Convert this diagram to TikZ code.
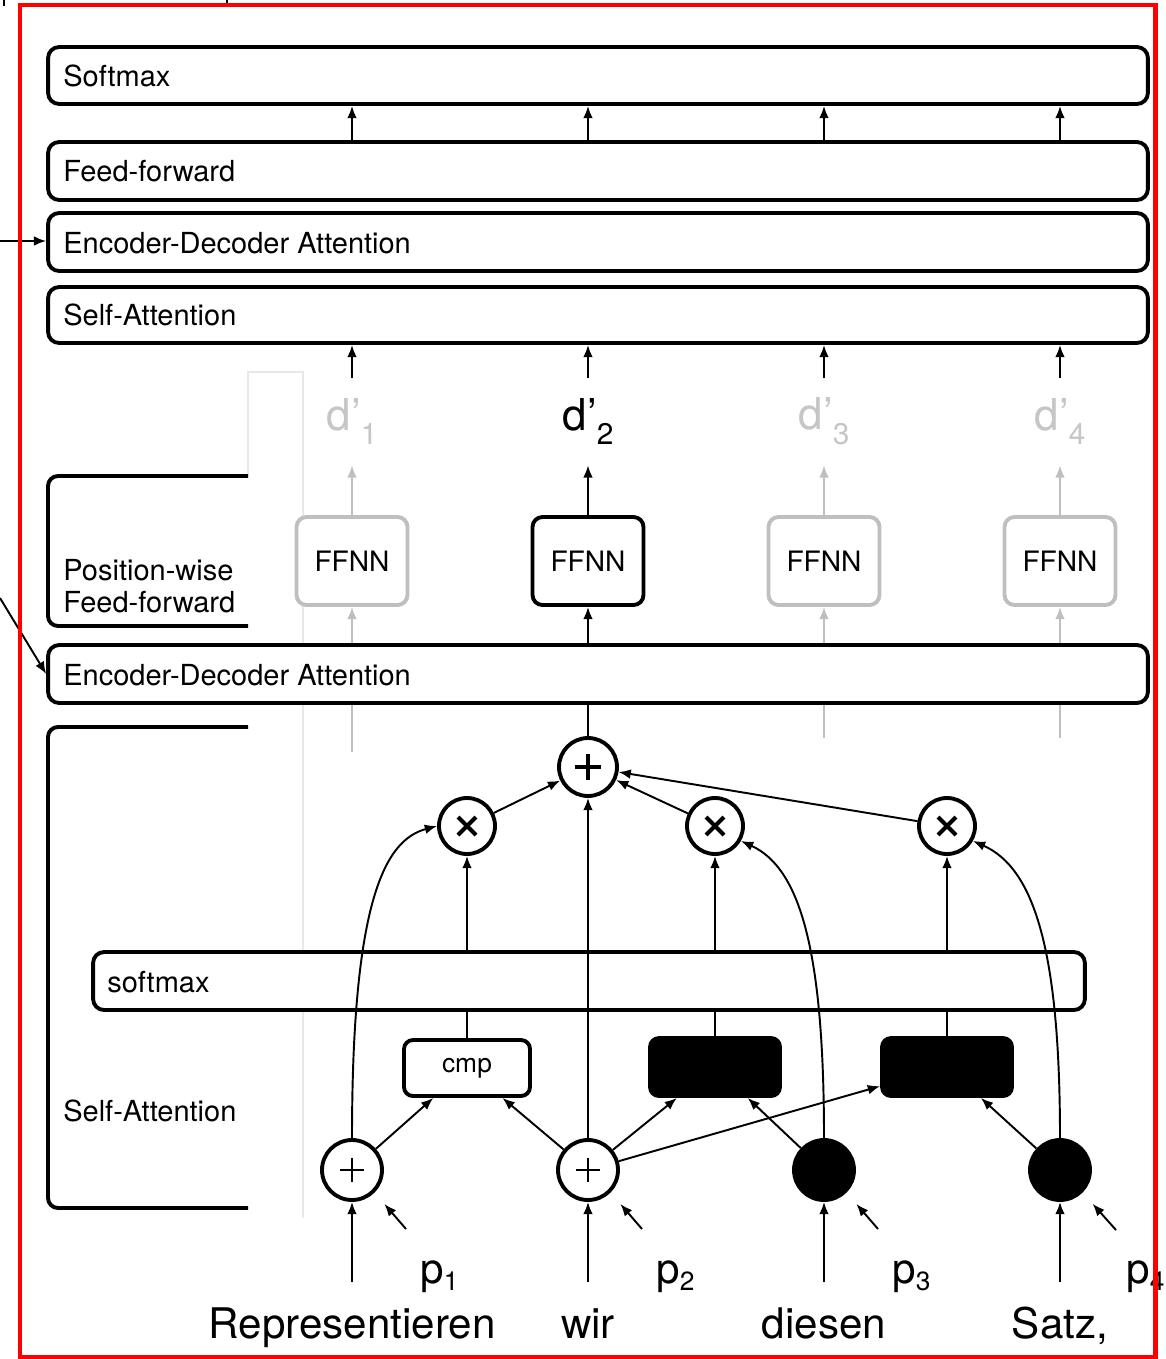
\documentclass[tikz,border=0pt]{standalone}
\usepackage{fontspec}
\setmainfont{TeX Gyre Heros}
\usetikzlibrary{arrows.meta,calc}
% subscripts for the d' and p labels
\newcommand\dsub[1]{\raisebox{-8.5pt}{\fontsize{17}{17}\selectfont #1}}
\newcommand\psub[1]{\raisebox{-4pt}{\fontsize{15}{15}\selectfont #1}}
\begin{document}
\begin{tikzpicture}[x=0.02cm,y=-0.02cm,
  thickline/.style={line width=2.2pt},
  layerbox/.style={draw, fill=white, line width=2.2pt, rounded corners=0.22cm,
    minimum width=22cm, minimum height=1.16cm, inner sep=0},
  lbltext/.style={anchor=west, inner sep=0, font=\fontsize{16.5}{18.5}\selectfont},
  arrowline/.style={-{Latex[length=7pt,width=5.5pt]}, line width=1.1pt},
  grayarrow/.style={arrowline, draw=gray!50},
  plainline/.style={line width=1.1pt},
  grayline/.style={line width=1.1pt, draw=gray!50},
  ffbox/.style={draw, fill=white, line width=2.2pt, rounded corners=0.2cm,
    minimum width=2.22cm, minimum height=1.76cm, inner sep=0,
    font=\fontsize{16}{18}\selectfont},
  dlabel/.style={inner sep=0, minimum height=1.74cm, font=\fontsize{25}{28}\selectfont},
  circnode/.style={circle, draw, fill=white, line width=2.2pt, inner sep=0},
  bigplus/.style={path picture={
    \draw[line width=2.3pt] ([xshift=-0.26cm]path picture bounding box.center) -- ([xshift=0.26cm]path picture bounding box.center)
      ([yshift=-0.26cm]path picture bounding box.center) -- ([yshift=0.26cm]path picture bounding box.center);}},
  smallplus/.style={path picture={
    \draw[line width=1.2pt] ([xshift=-0.24cm]path picture bounding box.center) -- ([xshift=0.24cm]path picture bounding box.center)
      ([yshift=-0.24cm]path picture bounding box.center) -- ([yshift=0.24cm]path picture bounding box.center);}},
  timessign/.style={path picture={
    \draw[line width=2.3pt] ([shift={(-0.18cm,-0.18cm)}]path picture bounding box.center) -- ([shift={(0.18cm,0.18cm)}]path picture bounding box.center)
      ([shift={(-0.18cm,0.18cm)}]path picture bounding box.center) -- ([shift={(0.18cm,-0.18cm)}]path picture bounding box.center);}},
  smallbox/.style={draw, line width=2.2pt, rounded corners=0.18cm,
    minimum width=2.52cm, minimum height=1.12cm, inner sep=0, font=\fontsize{15}{17}\selectfont},
  wordlabel/.style={anchor=base, inner sep=0, font=\fontsize{24}{28}\selectfont},
  plabel/.style={anchor=base west, inner sep=0, font=\fontsize{24}{28}\selectfont},
]
\useasboundingbox (0,0) rectangle (1166,1359);
\fill[white] (0,0) rectangle (1166,1359);

% column positions
\coordinate (c1) at (352,0);
\coordinate (c2) at (588,0);
\coordinate (c3) at (824,0);
\coordinate (c4) at (1060,0);

% light panel behind the left labels
\draw[gray!18, line width=0.6pt] (248,476) -- (248,372) -- (303,372) -- (303,1218);

% group brackets on the left
\draw[thickline, rounded corners=0.2cm] (248,476) -- (48,476) -- (48,626) -- (248,626);
\draw[thickline, rounded corners=0.2cm] (248,727) -- (48,727) -- (48,1208) -- (248,1208);
\node[lbltext, align=left] (t-pw) at (63,586) {Position-wise\\Feed-forward};
\node[lbltext] (t-sa2) at (63,1111) {Self-Attention};

% decoder layers
\node[layerbox, minimum height=1.14cm] (soft) at (598,75.5) {};
\node[layerbox] (ff) at (598,171) {};
\node[layerbox] (eda1) at (598,242) {};
\node[layerbox, minimum height=1.12cm] (sa) at (598,315) {};
\node[layerbox] (eda2) at (598,674) {};
\node[layerbox, minimum width=19.84cm] (smx) at (589,981) {};

\node[lbltext] (t-soft) at (63,75.5) {Softmax};
\node[lbltext] (t-ff) at (63,171) {Feed-forward};
\node[lbltext] (t-eda1) at (63,243) {Encoder-Decoder Attention};
\node[lbltext] (t-sa) at (63,315) {Self-Attention};
\node[lbltext] (t-eda2) at (63,675) {Encoder-Decoder Attention};
\node[lbltext] (t-smx) at (107,982) {softmax};

% inputs from the encoder
\coordinate (enc1) at (0,241);
\coordinate (enc2) at (0,598);
\draw[arrowline] (enc1) -- (eda1.west |- enc1);
\draw[arrowline] (enc2) -- (eda2.west);

% arrows between the upper layers
\foreach \i in {1,...,4}
  \draw[arrowline] (ff.north -| c\i) -- (soft.south -| c\i);

% position-wise feed-forward networks and outputs
\node[ffbox, draw=gray!50] (f1) at (352,561) {FFNN};
\node[ffbox] (f2) at (588,561) {FFNN};
\node[ffbox, draw=gray!50] (f3) at (824,561) {FFNN};
\node[ffbox, draw=gray!50] (f4) at (1060,561) {FFNN};

\node[dlabel, text=gray!45] (d1) at (352,421.5) {d’\dsub{1}};
\node[dlabel] (d2) at (588,421.5) {d’\dsub{2}};
\node[dlabel, text=gray!45] (d3) at (824,421.5) {d’\dsub{3}};
\node[dlabel, text=gray!45] (d4) at (1060,421.5) {d’\dsub{4}};

\foreach \i in {1,...,4}
  \draw[arrowline] (d\i.north) -- (sa.south -| c\i);
\draw[grayarrow] (f1.north) -- (d1.south);
\draw[arrowline] (f2.north) -- (d2.south);
\draw[grayarrow] (f3.north) -- (d3.south);
\draw[grayarrow] (f4.north) -- (d4.south);

\draw[grayarrow] (eda2.north -| c1) -- (f1.south);
\draw[arrowline] (eda2.north -| c2) -- (f2.south);
\draw[grayarrow] (eda2.north -| c3) -- (f3.south);
\draw[grayarrow] (eda2.north -| c4) -- (f4.south);

\coordinate (g1) at (352,752);
\coordinate (g3) at (824,738);
\coordinate (g4) at (1060,738);
\draw[grayline] (eda2.south -| c1) -- (g1);
\draw[grayline] (eda2.south -| c3) -- (g3);
\draw[grayline] (eda2.south -| c4) -- (g4);

% self-attention for the second position
\node[circnode, minimum size=1.16cm, bigplus] (bp) at (588,767) {};
\node[circnode, minimum size=1.12cm, timessign] (x1) at (467,826) {};
\node[circnode, minimum size=1.12cm, timessign] (x2) at (715,826) {};
\node[circnode, minimum size=1.12cm, timessign] (x3) at (947,826) {};

\node[smallbox, fill=white] (cmp) at (467,1068) {cmp};
\node[smallbox, fill=black, minimum width=2.6cm, minimum height=1.16cm] (bb1) at (715,1067) {};
\node[smallbox, fill=black, minimum width=2.6cm, minimum height=1.16cm] (bb2) at (947,1067) {};

\node[circnode, minimum size=1.2cm, smallplus] (pl1) at (352,1170) {};
\node[circnode, minimum size=1.2cm, smallplus] (pl2) at (588,1170) {};
\node[circnode, minimum size=1.2cm, fill=black] (pl3) at (824,1170) {};
\node[circnode, minimum size=1.2cm, fill=black] (pl4) at (1060,1170) {};

\draw[plainline] (eda2.south -| c2) -- (bp.north);
\draw[arrowline] (x1) -- (bp);
\draw[arrowline] (x2) -- (bp);
\draw[arrowline] (x3) -- (bp);
\draw[arrowline] (pl2) -- (bp);

\draw[arrowline] (smx.north -| x1) -- (x1);
\draw[arrowline] (smx.north -| x2) -- (x2);
\draw[arrowline] (smx.north -| x3) -- (x3);

\draw[plainline] (cmp.north) -- (smx.south -| cmp.north);
\draw[plainline] (bb1.north) -- (smx.south -| bb1.north);
\draw[plainline] (bb2.north) -- (smx.south -| bb2.north);

\draw[arrowline] (pl1) -- (cmp);
\draw[arrowline] (pl2) -- (cmp);
\draw[arrowline] (pl2) -- (bb1);
\draw[arrowline] (pl2) -- (bb2);
\draw[arrowline] (pl3) -- (bb1);
\draw[arrowline] (pl4) -- (bb2);

\draw[arrowline] (pl1.north) .. controls (352,900) and (385,840) .. (x1.west);
\draw[arrowline] (pl3.north) .. controls (824,950) and (800,868) .. (x2.-30);
\draw[arrowline] (pl4.north) .. controls (1060,950) and (1034,868) .. (x3.-30);

% word inputs and position encodings
\node[wordlabel] (w1) at (352,1338) {Representieren};
\node[wordlabel] (w2) at (588,1338) {wir};
\node[wordlabel] (w3) at (824,1338) {diesen};
\node[wordlabel] (w4) at (1060,1338) {Satz,};

\node[plabel] (p1) at (420,1283) {p\psub{1}};
\node[plabel] (p2) at (656,1283) {p\psub{2}};
\node[plabel] (p3) at (892,1283) {p\psub{3}};
\node[plabel] (p4) at (1126,1283) {p\psub{4}};

\foreach \i/\x in {1/352,2/588,3/824,4/1060} {
  \coordinate (in\i) at (\x,1282);
  \draw[arrowline] (in\i) -- (pl\i);
}
\coordinate (q1) at (406,1229);
\coordinate (q2) at (642,1229);
\coordinate (q3) at (878,1229);
\coordinate (q4) at (1116,1230);
\foreach \i in {1,...,4}
  \draw[arrowline, shorten >=8.5pt] (q\i) -- (pl\i.-45);

% frame
\draw[line width=0.8pt] (4,0) -- (4,6);
\draw[line width=0.8pt] (227,0) -- (227,4);
\draw[red, line width=2.4pt] (20,5) rectangle (1155.5,1357);
\end{tikzpicture}
\end{document}
